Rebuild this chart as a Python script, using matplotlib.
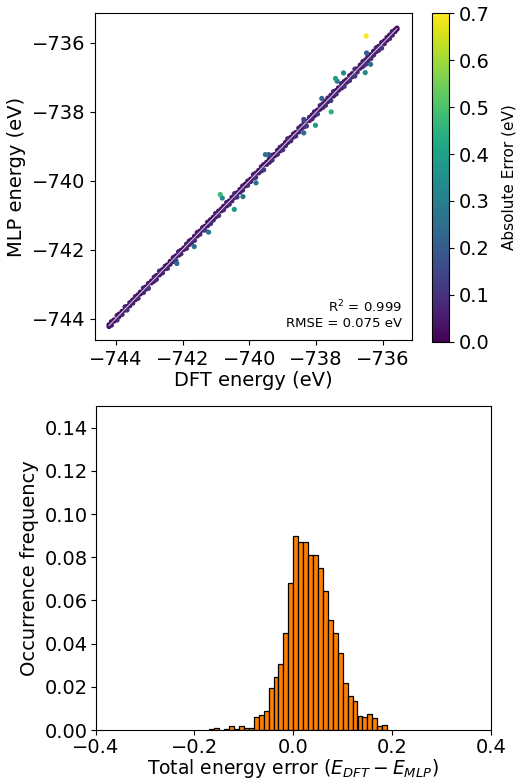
import numpy as np
import matplotlib.pyplot as plt

# --- parity plot data (eV) ---
dft_band = [
    -744.20, -744.13, -744.05, -743.96, -743.90, -743.81, -743.72, -743.66, -743.58, -743.49,
    -743.41, -743.33, -743.26, -743.17, -743.09, -743.02, -742.93, -742.85, -742.78, -742.69,
    -742.60, -742.52, -742.45, -742.37, -742.28, -742.20, -742.12, -742.05, -741.96, -741.88,
    -741.80, -741.73, -741.64, -741.56, -741.48, -741.40, -741.33, -741.25, -741.16, -741.08,
    -741.01, -740.92, -740.84, -740.77, -740.68, -740.60, -740.52, -740.44, -740.37, -740.28,
    -740.20, -740.12, -740.05, -739.96, -739.88, -739.81, -739.72, -739.64, -739.57, -739.48,
    -739.40, -739.32, -739.25, -739.16, -739.08, -739.00, -738.92, -738.85, -738.76, -738.68,
    -738.61, -738.52, -738.44, -738.36, -738.29, -738.20, -738.12, -738.05, -737.96, -737.88,
    -737.80, -737.72, -737.65, -737.56, -737.48, -737.40, -737.33, -737.24, -737.16, -737.09,
    -737.00, -736.92, -736.84, -736.77, -736.68, -736.60, -736.52, -736.45, -736.36, -736.28,
    -736.20, -736.13, -736.04, -735.96, -735.88, -735.80, -735.72, -735.64, -735.58,
]
# MLP - DFT for two passes over the band (upper / lower side)
err_a = [
    0.02, 0.04, 0.01, 0.05, 0.03, 0.02, 0.06, 0.01, 0.04, 0.03,
    0.05, 0.02, 0.03, 0.06, 0.01, 0.04, 0.02, 0.05, 0.03, 0.07,
    0.02, 0.04, 0.01, 0.03, 0.05, 0.02, 0.06, 0.03, 0.01, 0.04,
    0.05, 0.02, 0.03, 0.06, 0.02, 0.04, 0.01, 0.05, 0.03, 0.02,
    0.06, 0.04, 0.02, 0.03, 0.05, 0.01, 0.04, 0.07, 0.02, 0.03,
    0.05, 0.02, 0.04, 0.01, 0.06, 0.03, 0.02, 0.05, 0.04, 0.02,
    0.03, 0.06, 0.01, 0.04, 0.05, 0.02, 0.03, 0.07, 0.02, 0.04,
    0.01, 0.05, 0.03, 0.06, 0.02, 0.04, 0.03, 0.05, 0.01, 0.06,
    0.03, 0.02, 0.05, 0.04, 0.07, 0.02, 0.03, 0.06, 0.04, 0.02,
    0.05, 0.03, 0.08, 0.02, 0.04, 0.06, 0.03, 0.05, 0.02, 0.04,
    0.06, 0.03, 0.05, 0.02, 0.04, 0.03, 0.05, 0.02, 0.01,
]
err_b = [
    -0.03, -0.06, -0.02, -0.08, -0.04, -0.07, -0.03, -0.09, -0.05, -0.06,
    -0.04, -0.08, -0.02, -0.07, -0.05, -0.10, -0.03, -0.06, -0.08, -0.04,
    -0.07, -0.03, -0.09, -0.05, -0.06, -0.11, -0.04, -0.07, -0.03, -0.08,
    -0.05, -0.06, -0.09, -0.04, -0.07, -0.03, -0.10, -0.05, -0.08, -0.06,
    -0.04, -0.09, -0.03, -0.07, -0.05, -0.08, -0.06, -0.04, -0.10, -0.05,
    -0.07, -0.03, -0.08, -0.06, -0.04, -0.09, -0.05, -0.07, -0.11, -0.04,
    -0.06, -0.08, -0.03, -0.07, -0.05, -0.10, -0.06, -0.04, -0.08, -0.05,
    -0.09, -0.06, -0.04, -0.07, -0.12, -0.05, -0.08, -0.06, -0.10, -0.04,
    -0.07, -0.09, -0.05, -0.11, -0.06, -0.08, -0.04, -0.07, -0.10, -0.05,
    -0.09, -0.06, -0.12, -0.07, -0.05, -0.08, -0.10, -0.06, -0.09, -0.07,
    -0.05, -0.08, -0.11, -0.06, -0.04, -0.07, -0.05, -0.03, -0.02,
]
out_dft = [-736.50, -736.49, -737.18, -737.42, -737.37, -736.53, -736.37, -737.83,
           -737.55, -738.02, -739.52, -739.42, -739.80, -740.87, -740.81, -740.19,
           -740.45, -741.65, -742.17, -741.22, -738.37, -738.37]
out_mlp = [-735.80, -736.29, -736.87, -737.03, -737.11, -736.86, -736.62, -737.61,
           -738.00, -738.39, -739.24, -739.24, -740.06, -740.40, -740.50, -740.46,
           -740.83, -741.91, -742.40, -741.49, -738.22, -738.61]
r2_text = "R$^2$ = 0.999\nRMSE = 0.075 eV"

# --- histogram data: bin left edges and occurrence frequency ---
bin_left = [-0.17, -0.16, -0.14, -0.13, -0.12, -0.11, -0.10, -0.09, -0.08, -0.07,
            -0.06, -0.05, -0.04, -0.03, -0.02, -0.01, 0.00, 0.01, 0.02, 0.03,
            0.04, 0.05, 0.06, 0.07, 0.08, 0.09, 0.10, 0.11, 0.12, 0.13,
            0.14, 0.15, 0.16, 0.17, 0.18]
freq = [0.0005, 0.0010, 0.0005, 0.0017, 0.0006, 0.0020, 0.0010, 0.0010, 0.0060, 0.0069,
        0.0089, 0.0196, 0.0246, 0.0307, 0.0450, 0.0679, 0.0898, 0.0870, 0.0870, 0.0810,
        0.0810, 0.0750, 0.0644, 0.0512, 0.0450, 0.0358, 0.0217, 0.0156, 0.0136, 0.0064,
        0.0060, 0.0075, 0.0055, 0.0021, 0.0026]
bin_width = 0.01

band_dft = np.array(dft_band)
dft = np.concatenate([band_dft, band_dft, out_dft])
mlp = np.concatenate([band_dft + np.array(err_a), band_dft + np.array(err_b), out_mlp])
abs_err = np.abs(mlp - dft)
order = np.argsort(abs_err)

fig = plt.figure(figsize=(5.2, 7.83), dpi=100)

ax1 = fig.add_axes([0.1827, 0.5658, 0.6096, 0.4176])
sc = ax1.scatter(dft[order], mlp[order], c=abs_err[order], cmap="viridis",
                 vmin=0.0, vmax=0.7, s=14, edgecolors="none")
lo, hi = dft.min(), dft.max()
ax1.plot([lo, hi], [lo, hi], color="white", lw=0.7, alpha=0.8)
ax1.set_xlim(-744.62, -735.13)
ax1.set_ylim(-744.62, -735.13)
ax1.set_xticks([-744, -742, -740, -738, -736])
ax1.set_yticks([-744, -742, -740, -738, -736])
ax1.tick_params(labelsize=14)
ax1.set_xlabel("DFT energy (eV)", fontsize=14, labelpad=2)
ax1.set_ylabel("MLP energy (eV)", fontsize=14)
ax1.text(0.97, 0.03, r2_text, transform=ax1.transAxes, ha="right", va="bottom",
         fontsize=9.5, multialignment="right")

cax = fig.add_axes([0.830, 0.5636, 0.0338, 0.4194])
cb = fig.colorbar(sc, cax=cax)
cb.set_ticks([0.0, 0.1, 0.2, 0.3, 0.4, 0.5, 0.6, 0.7])
cb.ax.tick_params(labelsize=14)
cb.set_label("Absolute Error (eV)", fontsize=11, labelpad=8)

ax2 = fig.add_axes([0.184, 0.0675, 0.760, 0.414])
ax2.bar(bin_left, freq, width=bin_width, align="edge", color="#ff8000",
        edgecolor="black", linewidth=0.9)
ax2.set_xlim(-0.4, 0.4)
ax2.set_ylim(0, 0.15)
ax2.set_xticks([-0.4, -0.2, 0.0, 0.2, 0.4])
ax2.set_yticks([0.00, 0.02, 0.04, 0.06, 0.08, 0.10, 0.12, 0.14])
ax2.tick_params(labelsize=14, pad=2)
ax2.set_xlabel("Total energy error ($E_{DFT} - E_{MLP}$)", fontsize=13.5, labelpad=0)
ax2.set_ylabel("Occurrence frequency", fontsize=14)

fig.savefig("out.png", dpi=100)
plt.close(fig)
